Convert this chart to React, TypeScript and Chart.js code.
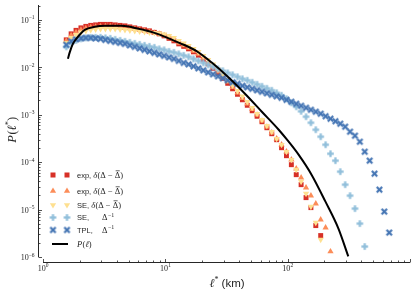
import React, { useEffect, useRef } from 'react';
import { Chart, registerables } from 'chart.js';

Chart.register(...registerables);

// Bin centres (km) shared by the marker series
const X_KM = [
  1.549, 1.698, 1.862, 2.042, 2.239, 2.455, 2.692, 2.951, 3.236, 3.548,
  3.890, 4.266, 4.677, 5.129, 5.623, 6.166, 6.761, 7.413, 8.128, 8.913,
  9.772, 10.72, 11.75, 12.88, 14.13, 15.49, 16.98, 18.62, 20.42, 22.39,
  24.55, 26.92, 29.51, 32.36, 35.48, 38.90, 42.66, 46.77, 51.29, 56.23,
  61.66, 67.61, 74.13, 81.28, 89.13, 97.72, 107.2, 117.5, 128.8, 141.3,
  154.9, 169.8, 186.2, 204.2, 223.9, 245.5, 269.2, 295.1, 323.6, 354.8,
  389.0, 426.6, 467.7, 512.9, 562.3, 616.6, 676.1,
];

// exp, δ(Δ − Δ̄)  (red squares)
const EXP_SQ = [
  0.03793, 0.05073, 0.06011, 0.06785, 0.07297, 0.07657, 0.07845, 0.08037, 0.08037, 0.08037,
  0.07845, 0.07657, 0.07476, 0.07122, 0.06785, 0.06464, 0.06158, 0.05866, 0.05455, 0.05073,
  0.04604, 0.04078, 0.03613, 0.03125, 0.02768, 0.02452, 0.02120, 0.01789, 0.01474, 0.01185,
  0.009526, 0.007476, 0.005866, 0.004604, 0.003527, 0.002701, 0.002069, 0.001585, 0.001214, 9.298e-4,
  7.122e-4, 5.324e-4, 3.981e-4, 2.976e-4, 2.020e-4, 1.370e-4, 8.858e-5, 5.455e-5, 3.359e-5, 1.789e-5,
  1.102e-5, 4.604e-6, 2.835e-6,
];

// exp, δ(Δ − Δ̄)  (orange triangles)
const EXP_TRI = [
  0.03613, 0.04717, 0.05455, 0.06158, 0.06623, 0.06952, 0.07122, 0.07297, 0.07297, 0.07297,
  0.07122, 0.06952, 0.06785, 0.06623, 0.06464, 0.06158, 0.05866, 0.05589, 0.05324, 0.05073,
  0.04717, 0.04281, 0.03793, 0.03279, 0.02905, 0.02573, 0.02225, 0.01924, 0.01585, 0.01274,
  0.01024, 0.008040, 0.006310, 0.004952, 0.003793, 0.002905, 0.002225, 0.001704, 0.001305, 0.001,
  7.476e-4, 5.589e-4, 4.179e-4, 3.125e-4, 2.336e-4, 1.664e-4, 1.129e-4, 7.297e-5, 4.717e-5, 2.905e-5,
  1.971e-5, 1.338e-5, 6.158e-6, 4.179e-6, 1.305e-6,
];

// SE, δ(Δ − Δ̄)  (yellow down-triangles)
const SE_DELTA = [
  0.03279, 0.04179, 0.04833, 0.05455, 0.05866, 0.06158, 0.06310, 0.06464, 0.06464, 0.06464,
  0.06464, 0.06310, 0.06158, 0.06011, 0.05866, 0.05726, 0.05589, 0.05455, 0.05324, 0.05199,
  0.04952, 0.04604, 0.04179, 0.03613, 0.03201, 0.02835, 0.02452, 0.02120, 0.01746, 0.01438,
  0.01157, 0.009076, 0.007122, 0.005455, 0.004179, 0.003201, 0.002452, 0.001878, 0.001404, 0.001050,
  7.845e-4, 5.866e-4, 4.386e-4, 3.125e-4, 2.336e-4, 1.664e-4, 1.129e-4, 6.952e-5, 3.886e-5, 2.172e-5,
  1.157e-5, 5.324e-6, 2.336e-6,
];

// SE, Δ^-1  (light blue plus)
const SE_INV = [
  0.02701, 0.03279, 0.03701, 0.03981, 0.04179, 0.04281, 0.04281, 0.04281, 0.04179, 0.04078,
  0.03886, 0.03701, 0.03527, 0.03359, 0.03201, 0.03049, 0.02905, 0.02768, 0.02636, 0.02452,
  0.02336, 0.02172, 0.02069, 0.01924, 0.01789, 0.01664, 0.01510, 0.01370, 0.01244, 0.01129,
  0.01024, 0.009298, 0.008440, 0.007657, 0.006952, 0.006310, 0.005726, 0.005324, 0.004833, 0.004386,
  0.003981, 0.003613, 0.003279, 0.002905, 0.002573, 0.002172, 0.001789, 0.001474, 0.001185, 9.076e-4,
  6.785e-4, 4.833e-4, 3.443e-4, 2.336e-4, 1.510e-4, 1.076e-4, 6.310e-5, 3.359e-5, 1.971e-5, 1.050e-5,
  5.073e-6, 1.664e-6,
];

// TPL, Δ^-1  (dark blue X)
const TPL_INV = [
  0.02976, 0.03527, 0.03886, 0.04078, 0.04179, 0.04179, 0.04078, 0.03981, 0.03793, 0.03613,
  0.03443, 0.03279, 0.03125, 0.02905, 0.02701, 0.02512, 0.02336, 0.02172, 0.02020, 0.01878,
  0.01746, 0.01624, 0.01510, 0.01370, 0.01244, 0.01157, 0.01050, 0.009526, 0.008647, 0.007845,
  0.007122, 0.006464, 0.005866, 0.005324, 0.004833, 0.004493, 0.004078, 0.003793, 0.003527, 0.003279,
  0.003049, 0.002835, 0.002636, 0.002452, 0.002280, 0.002069, 0.001878, 0.001704, 0.001547, 0.001404,
  0.001274, 0.001157, 0.001050, 9.298e-4, 8.236e-4, 7.297e-4, 6.464e-4, 5.589e-4, 4.386e-4, 3.613e-4,
  2.701e-4, 1.664e-4, 1.076e-4, 5.726e-5, 2.636e-5, 9.076e-6, 3.279e-6,
];

// P(ℓ) model curve
const MODEL_X = [1.597, 1.658, 1.754, 1.926, 2.195, 2.647, 3.192, 4.387, 5.92, 8.14, 13.0, 17.87, 24.1, 33.1, 45.6, 61.5, 84.5, 101.9, 122.8, 156.7, 203.7, 260, 313];
const MODEL_P = [0.0151, 0.0212, 0.0312, 0.0439, 0.0616, 0.0713, 0.0748, 0.0748, 0.0656, 0.0532, 0.0328, 0.0223, 0.01244, 0.00601, 0.00264, 0.001156, 4.83e-4, 2.70e-4, 1.44e-4, 5.46e-5, 1.47e-5, 3.98e-6, 1.03e-6];

const X_TICKS = [1, 10, 100];
const X_TICK_EXP = ['0', '1', '2'];
const Y_TICKS = [1e-1, 1e-2, 1e-3, 1e-4, 1e-5, 1e-6];
const Y_TICK_EXP = ['\u22121', '\u22122', '\u22123', '\u22124', '\u22125', '\u22126'];

const X_MIN = 0.91;
const X_MAX = 1000;
const Y_MIN = 7.86e-7;
const Y_MAX = 0.206;

const RED = '#d73027';
const ORANGE = '#fc8d59';
const YELLOW = '#fee090';
const LIGHT = '#91bfdb';
const DARK = '#4575b4';
const INK = '#262626';
const SERIF = "'Liberation Serif', 'DejaVu Serif', serif";
const SANS = "'Liberation Sans', Arial, sans-serif";

function makeMarker(color: string, rotated: boolean): HTMLCanvasElement {
  const c = document.createElement('canvas');
  const s = 9;
  c.width = s;
  c.height = s;
  const g = c.getContext('2d')!;
  g.translate(s / 2, s / 2);
  if (rotated) g.rotate(Math.PI / 4);
  g.fillStyle = color;
  const L = rotated ? 3.8 : 3.3;
  const t = rotated ? 1.1 : 1.15;
  g.fillRect(-L, -t, 2 * L, 2 * t);
  g.fillRect(-t, -L, 2 * t, 2 * L);
  return c;
}

function tri(ctx: CanvasRenderingContext2D, x: number, y: number, r: number, down: boolean, color: string) {
  ctx.save();
  ctx.translate(x, y);
  if (down) ctx.rotate(Math.PI);
  ctx.beginPath();
  for (let k = 0; k < 3; k++) {
    const a = -Math.PI / 2 + (k * 2 * Math.PI) / 3;
    const px = Math.cos(a) * r;
    const py = Math.sin(a) * r;
    if (k === 0) ctx.moveTo(px, py);
    else ctx.lineTo(px, py);
  }
  ctx.closePath();
  ctx.fillStyle = color;
  ctx.fill();
  ctx.restore();
}

function drawDeltaMath(ctx: CanvasRenderingContext2D, x: number, base: number) {
  const M = 8.5;
  ctx.textAlign = 'left';
  ctx.textBaseline = 'alphabetic';
  ctx.font = `italic ${M}px ${SERIF}`;
  ctx.fillText('\u03b4', x, base);
  x += ctx.measureText('\u03b4').width + 0.3;
  ctx.font = `${M}px ${SERIF}`;
  const s1 = '(\u0394 \u2212 ';
  ctx.fillText(s1, x, base);
  x += ctx.measureText(s1).width;
  const wD = ctx.measureText('\u0394').width;
  ctx.fillText('\u0394', x, base);
  ctx.fillRect(x + 0.8, base - M * 0.66 - 1.8, wD - 1.4, 0.7);
  x += wD;
  ctx.fillText(')', x, base);
}

function drawInvDelta(ctx: CanvasRenderingContext2D, x: number, base: number) {
  ctx.textAlign = 'left';
  ctx.textBaseline = 'alphabetic';
  ctx.font = `8.5px ${SERIF}`;
  ctx.fillText('\u0394', x, base);
  x += ctx.measureText('\u0394').width + 0.5;
  ctx.font = `6px ${SERIF}`;
  ctx.fillText('\u22121', x, base - 3.5);
}

export default function App() {
  const ref = useRef<HTMLCanvasElement>(null);

  useEffect(() => {
    document.body.style.margin = '0';
    const canvas = ref.current!;
    const plusImg = makeMarker(LIGHT, false);
    const xImg = makeMarker(DARK, true);

    const pts = (ys: number[]) => ys.map((y, i) => ({ x: X_KM[i], y }));

    const decor = {
      id: 'decor',
      afterDraw(chart: any) {
        const { ctx, chartArea, scales } = chart;
        const xs = scales.x;
        const ys = scales.y;
        ctx.save();
        ctx.strokeStyle = INK;
        ctx.fillStyle = INK;
        ctx.lineWidth = 1;
        const sx = Math.round(chartArea.left) + 0.5;
        const sy = Math.round(chartArea.bottom) + 0.5;
        const yBottom = ys.getPixelForValue(1e-6);
        // spines
        ctx.beginPath();
        ctx.moveTo(sx, chartArea.top);
        ctx.lineTo(sx, yBottom);
        ctx.moveTo(xs.getPixelForValue(1), sy);
        ctx.lineTo(chartArea.right, sy);
        ctx.stroke();
        // y ticks
        ctx.lineWidth = 0.8;
        ctx.beginPath();
        for (let d = -6; d <= -1; d++) {
          for (let k = 1; k <= 9; k++) {
            const v = k * Math.pow(10, d);
            if (v > Y_MAX) break;
            const py = Math.round(ys.getPixelForValue(v)) + 0.5;
            const len = k === 1 ? 3.5 : 2;
            ctx.moveTo(sx, py);
            ctx.lineTo(sx + len, py);
          }
        }
        // x ticks
        for (let d = 0; d <= 3; d++) {
          for (let k = 1; k <= 9; k++) {
            const v = k * Math.pow(10, d);
            if (v > X_MAX) break;
            const px = Math.round(xs.getPixelForValue(v)) + 0.5;
            const len = k === 1 ? 3.5 : 2;
            ctx.moveTo(px, sy);
            ctx.lineTo(px, sy - len);
          }
        }
        ctx.stroke();

        // tick labels
        ctx.textAlign = 'left';
        ctx.textBaseline = 'alphabetic';
        Y_TICKS.forEach((v, i) => {
          const py = ys.getPixelForValue(v);
          ctx.font = `5.5px ${SERIF}`;
          const ws = ctx.measureText(Y_TICK_EXP[i]).width;
          ctx.font = `8px ${SERIF}`;
          const w10 = ctx.measureText('10').width;
          const right = 34.5;
          ctx.fillText('10', right - ws - w10, py + 3.3);
          ctx.font = `5.5px ${SERIF}`;
          ctx.fillText(Y_TICK_EXP[i], right - ws, py - 0.5);
        });
        X_TICKS.forEach((v, i) => {
          const px = xs.getPixelForValue(v);
          ctx.font = `5.5px ${SERIF}`;
          const ws = ctx.measureText(X_TICK_EXP[i]).width;
          ctx.font = `8px ${SERIF}`;
          const w10 = ctx.measureText('10').width;
          const left = px - (w10 + ws) / 2;
          ctx.fillText('10', left, 270.5);
          ctx.font = `5.5px ${SERIF}`;
          ctx.fillText(X_TICK_EXP[i], left + w10 + 0.2, 266.5);
        });

        // x title
        {
          ctx.font = `italic 12px ${SERIF}`;
          const wl = ctx.measureText('\u2113').width;
          ctx.font = `8px ${SERIF}`;
          const wst = ctx.measureText('*').width;
          ctx.font = `11.5px ${SERIF}`;
          ctx.font = `11.5px ${SANS}`;
          const wk = ctx.measureText(' (km)').width;
          let x = 227 - (wl + wst + wk) / 2;
          const base = 286.5;
          ctx.font = `italic 12px ${SERIF}`;
          ctx.fillText('\u2113', x, base);
          x += wl;
          ctx.font = `8px ${SERIF}`;
          ctx.fillText('*', x, base - 4.5);
          x += wst;
          ctx.font = `11.5px ${SANS}`;
          ctx.fillText(' (km)', x, base);
        }
        // y title
        {
          ctx.save();
          ctx.translate(15.5, 130);
          ctx.rotate(-Math.PI / 2);
          ctx.font = `italic 12.5px ${SERIF}`;
          const wP = ctx.measureText('P').width;
          ctx.font = `12.5px ${SERIF}`;
          const wo = ctx.measureText('(').width;
          ctx.font = `italic 12.5px ${SERIF}`;
          const wl = ctx.measureText('\u2113').width;
          ctx.font = `8.5px ${SERIF}`;
          const wst = ctx.measureText('*').width;
          ctx.font = `12.5px ${SERIF}`;
          const wc = ctx.measureText(')').width;
          let x = -(wP + wo + wl + wst + wc) / 2;
          ctx.font = `italic 12.5px ${SERIF}`;
          ctx.fillText('P', x, 0);
          x += wP + 0.5;
          ctx.font = `12.5px ${SERIF}`;
          ctx.fillText('(', x, 0);
          x += wo;
          ctx.font = `italic 12.5px ${SERIF}`;
          ctx.fillText('\u2113', x, 0);
          x += wl;
          ctx.font = `8.5px ${SERIF}`;
          ctx.fillText('*', x, -4.5);
          x += wst;
          ctx.font = `12.5px ${SERIF}`;
          ctx.fillText(')', x, 0);
          ctx.restore();
        }

        // legend
        const mx = [53, 67];
        const tx = 77;
        const rows = [175, 191, 205, 217.5, 230, 244];
        ctx.fillStyle = RED;
        mx.forEach((x) => ctx.fillRect(x - 2.5, rows[0] - 2.5, 5, 5));
        mx.forEach((x) => tri(ctx, x, rows[1], 3.6, false, ORANGE));
        mx.forEach((x) => tri(ctx, x, rows[2], 3.6, true, YELLOW));
        mx.forEach((x) => ctx.drawImage(plusImg, x - plusImg.width / 2, rows[3] - plusImg.height / 2));
        mx.forEach((x) => ctx.drawImage(xImg, x - xImg.width / 2, rows[4] - xImg.height / 2));
        ctx.strokeStyle = '#000';
        ctx.lineWidth = 2;
        ctx.beginPath();
        ctx.moveTo(52, rows[5]);
        ctx.lineTo(68, rows[5]);
        ctx.stroke();

        ctx.fillStyle = INK;
        ctx.textAlign = 'left';
        ctx.textBaseline = 'alphabetic';
        const sansRow = (label: string, row: number) => {
          ctx.font = `7.5px ${SANS}`;
          ctx.fillText(label, tx, row + 2.7);
          return tx + ctx.measureText(label).width;
        };
        let e = sansRow('exp, ', rows[0]);
        drawDeltaMath(ctx, e, rows[0] + 2.9);
        e = sansRow('exp, ', rows[1]);
        drawDeltaMath(ctx, e, rows[1] + 2.9);
        e = sansRow('SE, ', rows[2]);
        drawDeltaMath(ctx, e, rows[2] + 2.9);
        sansRow('SE,', rows[3]);
        drawInvDelta(ctx, 102, rows[3] + 2.9);
        sansRow('TPL,', rows[4]);
        drawInvDelta(ctx, 102, rows[4] + 2.9);
        {
          const base = rows[5] + 3;
          let x = tx;
          ctx.font = `italic 8.5px ${SERIF}`;
          ctx.fillText('P', x, base);
          x += ctx.measureText('P').width + 0.3;
          ctx.font = `8.5px ${SERIF}`;
          ctx.fillText('(', x, base);
          x += ctx.measureText('(').width;
          ctx.font = `italic 8.5px ${SERIF}`;
          ctx.fillText('\u2113', x, base);
          x += ctx.measureText('\u2113').width;
          ctx.font = `8.5px ${SERIF}`;
          ctx.fillText(')', x, base);
        }
        ctx.restore();
      },
    };

    const chart = new Chart(canvas, {
      type: 'scatter',
      data: {
        datasets: [
          {
            label: 'exp, δ(Δ − Δ̄)',
            data: pts(EXP_SQ),
            pointStyle: 'rect',
            pointRadius: 3.5,
            pointBackgroundColor: RED,
            pointBorderWidth: 0,
            showLine: false,
            order: 6,
          },
          {
            label: 'exp, δ(Δ − Δ̄)',
            data: pts(EXP_TRI),
            pointStyle: 'triangle',
            pointRadius: 3.6,
            pointBackgroundColor: ORANGE,
            pointBorderWidth: 0,
            showLine: false,
            order: 5,
          },
          {
            label: 'SE, δ(Δ − Δ̄)',
            data: pts(SE_DELTA),
            pointStyle: 'triangle',
            pointRotation: 180,
            pointRadius: 3.6,
            pointBackgroundColor: YELLOW,
            pointBorderWidth: 0,
            showLine: false,
            order: 4,
          },
          {
            label: 'SE, Δ^-1',
            data: pts(SE_INV),
            pointStyle: plusImg,
            pointRadius: 4,
            showLine: false,
            order: 3,
          },
          {
            label: 'TPL, Δ^-1',
            data: pts(TPL_INV),
            pointStyle: xImg,
            pointRadius: 4,
            showLine: false,
            order: 2,
          },
          {
            label: 'P(ℓ)',
            data: MODEL_X.map((x, i) => ({ x, y: MODEL_P[i] })),
            showLine: true,
            borderColor: '#000',
            borderWidth: 2,
            pointRadius: 0,
            cubicInterpolationMode: 'monotone',
            order: 1,
          },
        ] as any,
      },
      options: {
        responsive: false,
        animation: false,
        devicePixelRatio: 1,
        events: [],
        layout: { padding: { top: 3, right: 4, left: 0, bottom: 0 } },
        plugins: { legend: { display: false }, tooltip: { enabled: false } },
        scales: {
          x: {
            type: 'logarithmic',
            min: X_MIN,
            max: X_MAX,
            grid: { display: false },
            border: { display: false },
            ticks: { display: false },
            afterFit: (s: any) => {
              s.height = 30;
            },
          },
          y: {
            type: 'logarithmic',
            min: Y_MIN,
            max: Y_MAX,
            grid: { display: false },
            border: { display: false },
            ticks: { display: false },
            afterFit: (s: any) => {
              s.width = 38;
            },
          },
        },
      } as any,
      plugins: [decor],
    });
    return () => chart.destroy();
  }, []);

  return (
    <div style={{ width: 415, height: 292 }}>
      <canvas ref={ref} width={415} height={292} style={{ display: 'block' }} />
    </div>
  );
}
